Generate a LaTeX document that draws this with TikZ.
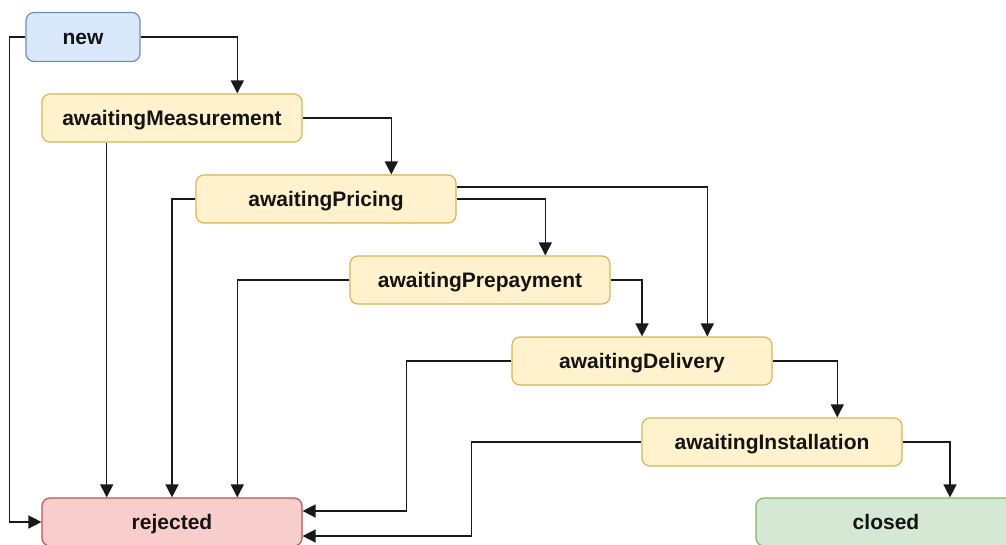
\documentclass[tikz,border=0pt]{standalone}
\usepackage{fontspec}
\setmainfont{Liberation Sans}
\usetikzlibrary{arrows.meta,calc}
\definecolor{bluefill}{HTML}{DAE8FC}
\definecolor{blueline}{HTML}{6C8EBF}
\definecolor{yelfill}{HTML}{FFF2CC}
\definecolor{yelline}{HTML}{D6B656}
\definecolor{redfill}{HTML}{F8CECC}
\definecolor{redline}{HTML}{B85450}
\definecolor{grnfill}{HTML}{D5E8D4}
\definecolor{grnline}{HTML}{82B366}
\definecolor{ink}{HTML}{141414}
\begin{document}
\begin{tikzpicture}[x=1pt,y=-1pt,
  state/.style={rounded corners=8pt, line width=1.2pt, minimum width=260pt,
    minimum height=48pt, inner sep=0pt, text=ink,
    text height=15.3pt, text depth=0pt,
    font=\fontsize{21}{25}\selectfont\bfseries},
  startstate/.style={state, fill=bluefill, draw=blueline, minimum width=114pt, minimum height=49pt},
  waitstate/.style={state, fill=yelfill, draw=yelline},
  failstate/.style={state, fill=redfill, draw=redline},
  donestate/.style={state, fill=grnfill, draw=grnline},
  link/.style={line width=1.5pt, draw=black!90, rounded corners=0pt,
    -{Triangle[length=13pt,width=13pt]}}
]
\useasboundingbox (0,0) rectangle (1006,544);

% states
\node[startstate] (new) at (83,37) {new};
\node[waitstate] (meas) at (172,118) {awaitingMeasurement};
\node[waitstate] (pric) at (326,199) {awaitingPricing};
\node[waitstate] (prep) at (480,280) {awaitingPrepayment};
\node[waitstate] (deliv) at (642,361) {awaitingDelivery};
\node[waitstate] (inst) at (772,442) {awaitingInstallation};
\node[failstate] (rej) at (172,522) {rejected};
\node[donestate] (closed) at (886,522) {closed};

% attachment points at a quarter of the box width
\coordinate (measIn) at ($(meas.north)!0.5!(meas.north east)$);
\coordinate (measOut) at ($(meas.south)!0.5!(meas.south west)$);
\coordinate (pricIn) at ($(pric.north)!0.5!(pric.north east)$);
\coordinate (prepIn) at ($(prep.north)!0.5!(prep.north east)$);
\coordinate (delivIn) at ($(deliv.north)!0.5!(deliv.north east)$);
\coordinate (instIn) at ($(inst.north)!0.5!(inst.north east)$);
\coordinate (closedIn) at ($(closed.north)+(64,0)$);
\coordinate (rejW) at ($(rej.north)!0.5!(rej.north west)$);
\coordinate (rejE) at ($(rej.north)!0.5!(rej.north east)$);
\coordinate (rejR1) at ($(rej.east)+(0,-11)$);
\coordinate (rejR2) at ($(rej.east)+(0,14)$);
\coordinate (pricOutHi) at ($(pric.east)+(0,-12)$);

% forward transitions
\draw[link] (new.east) -| (measIn);
\draw[link] (meas.east) -| (pricIn);
\draw[link] (pric.east) -| (prepIn);
\draw[link] (pricOutHi) -| (delivIn);
\draw[link] (prep.east) -| (deliv.north);
\draw[link] (deliv.east) -| (instIn);
\draw[link] (inst.east) -| (closedIn);

% rejections
\draw[link] (new.west) -- ++(-16,0) |- (rej.west);
\draw[link] (measOut) -- (rejW);
\draw[link] (pric.west) -| (rej.north);
\draw[link] (prep.west) -| (rejE);
\draw[link] (deliv.west) -- ++(-105,0) |- (rejR1);
\draw[link] (inst.west) -- ++(-170,0) |- (rejR2);
\end{tikzpicture}
\end{document}
